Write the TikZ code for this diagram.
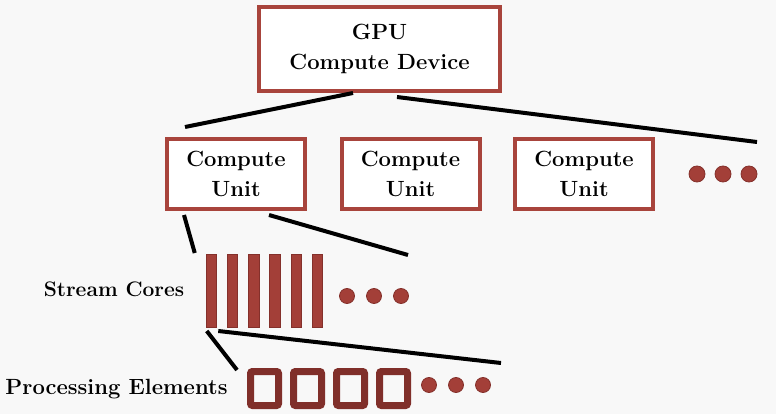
\documentclass[tikz,border=0pt]{standalone}
\usepackage{fontspec}
\usepackage{tikz}
\usetikzlibrary{calc}
\definecolor{boxred}{RGB}{168,68,60}
\definecolor{corered}{RGB}{163,63,56}
\definecolor{coreedge}{RGB}{132,48,43}
\definecolor{pered}{RGB}{128,47,42}
\definecolor{bggray}{RGB}{248,248,248}

\begin{document}
\begin{tikzpicture}[
    x=1pt, y=-1pt,
    every node/.style={font=\fontsize{22}{30.5}\selectfont\bfseries},
    unitbox/.style={draw=boxred, line width=4pt, fill=white, align=center, inner sep=0pt},
    core/.style={draw=coreedge, line width=1pt, fill=corered,
        minimum width=10.5pt, minimum height=73pt, inner sep=0pt},
    pebox/.style={draw=pered, line width=7pt, rounded corners=2pt,
        minimum width=28pt, minimum height=34pt, inner sep=0pt},
    dot/.style={circle, fill=corered, draw=coreedge, line width=0.8pt,
        minimum size=15pt, inner sep=0pt},
    link/.style={line width=4pt, black}
]
% Background
\fill[bggray] (0,0) rectangle (776,414);
\useasboundingbox (0,0) rectangle (776,414);

% Device
\node[unitbox, minimum width=241pt, minimum height=84pt] (gpu) at (379.5,49)
    {GPU\\Compute Device};

% Compute units
\node[unitbox, minimum width=138pt, minimum height=70pt] (cu1) at (236,174) {Compute\\Unit};
\node[unitbox, minimum width=138pt, minimum height=70pt] (cu2) at (410.5,174) {Compute\\Unit};
\node[unitbox, minimum width=138pt, minimum height=70pt] (cu3) at (584,174) {Compute\\Unit};
\node[dot, minimum size=16pt] (cud1) at (697,174) {};
\node[dot, minimum size=16pt] (cud2) at (723,174) {};
\node[dot, minimum size=16pt] (cud3) at (749,174) {};

% Stream cores
\foreach \i in {1,...,6}
    \node[core] (sc\i) at ({211.5+21.2*(\i-1)},291) {};
\node[dot] (scd1) at (347,296) {};
\node[dot] (scd2) at (374,296) {};
\node[dot] (scd3) at (401,296) {};
\node[anchor=base, font=\fontsize{21}{25}\selectfont\bfseries] (sclabel) at (114,296) {Stream Cores};

% Processing elements
\foreach \i in {1,...,4}
    \node[pebox] (pe\i) at ({264.5+43*(\i-1)},388.5) {};
\node[dot] (ped1) at (429,385) {};
\node[dot] (ped2) at (456,385) {};
\node[dot] (ped3) at (483,385) {};
\node[anchor=base] (pelabel) at (116.5,394) {Processing Elements};

% Hierarchy lines
\coordinate (gpuend) at (757,142);
\coordinate (cuend) at (408,255);
\coordinate (scend) at (501,363);
\draw[link] ($(gpu.south)+(-26.5,0)$) -- ($(cu1.north west)+(20,-10)$);
\draw[link] ($(gpu.south)+(17.5,4)$) -- (gpuend);
\draw[link] ($(cu1.south west)+(19,4)$) -- ($(sc1.north west)+(-11,-1)$);
\draw[link] ($(cu1.south west)+(104,4)$) -- (cuend);
\draw[link] ($(sc1.south west)+(1,3)$) -- ($(pe1.north west)+(-10,2)$);
\draw[link] ($(sc1.south east)+(1,3)$) -- (scend);
\end{tikzpicture}
\end{document}
